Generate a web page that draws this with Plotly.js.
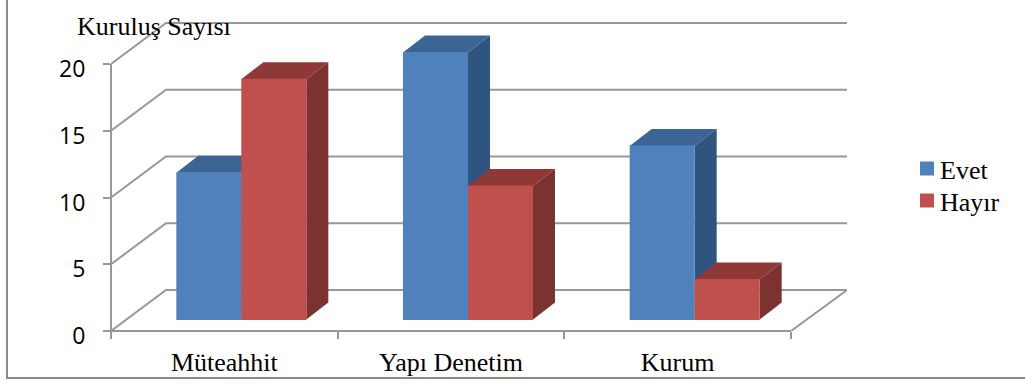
<!DOCTYPE html>
<html>
<head>
<meta charset="utf-8">
<script src="https://cdn.plot.ly/plotly-3.0.1.min.js"></script>
<style>html,body{margin:0;padding:0;background:#fff}#c{width:1025px;height:385px}</style>
</head>
<body>
<div id="c"></div>
<script>
const categories = ['Müteahhit', 'Yapı Denetim', 'Kurum'];
const evet = [11, 20, 13];
const hayir = [18, 10, 3];
const yTicks = [0, 5, 10, 15, 20];
const seriesNames = ['Evet', 'Hayır'];
const yTitle = 'Kuruluş Sayısı';

// plot box in page pixels
const W = 1025, H = 385;
const L = 111, R = 847, T = 13, B = 331;
const pxX = 680 / categories.length;      // pixels per category
const pxY = 13.35;                        // pixels per unit of value
const xMax = (R - L) / pxX, yMax = (B - T) / pxY;
const wallDx = 55 / pxX, wallDy = 41 / pxY;     // depth of the floor
const barDx = 22 / pxX, barDy = 17 / pxY;       // depth of one bar
const barBase = 11.5 / pxY;                     // bars stand in front of the back wall
const barW = 63 / pxX;                          // plus a 2px outline = 65px
const barStep = 65 / pxX;
const barShift = 17 / pxX;

const GRID = '#989898', FRAME = '#8a8a8a';
const SERIF = '"Liberation Serif", "Times New Roman", serif';
const blue = {front: '#4F81BD', top: '#3C6494', side: '#2F5480'};
const red  = {front: '#C0504D', top: '#8E3937', side: '#7C3230'};

const traces = [];
function line(xs, ys) {
  traces.push({type: 'scatter', mode: 'lines', x: xs, y: ys, cliponaxis: false, zorder: 0,
    line: {color: GRID, width: 2}, showlegend: false, hoverinfo: 'skip'});
}
// wall and floor lines
yTicks.forEach(v => line([0, wallDx, xMax], [v, v + wallDy, v + wallDy]));
line([3, xMax], [0, wallDy]);

function bars(values, name, col, side, z) {
  const xc = values.map((_, i) => i + 0.5 + barShift + side * barStep / 2);
  values.forEach((v, i) => {
    const x0 = xc[i] - barStep / 2, x1 = xc[i] + barStep / 2, t = barBase + v;
    traces.push({type: 'scatter', mode: 'lines', fill: 'toself', fillcolor: col.top, zorder: z,
      x: [x0, x1, x1 + barDx, x0 + barDx, x0], y: [t, t, t + barDy, t + barDy, t],
      line: {width: 0}, showlegend: false, hoverinfo: 'skip', cliponaxis: false});
    traces.push({type: 'scatter', mode: 'lines', fill: 'toself', fillcolor: col.side, zorder: z,
      x: [x1, x1 + barDx, x1 + barDx, x1, x1], y: [barBase, barBase + barDy, t + barDy, t, barBase],
      line: {width: 0}, showlegend: false, hoverinfo: 'skip', cliponaxis: false});
  });
  traces.push({type: 'bar', name: name, x: xc, y: values.map(v => v - 1 / pxY), base: barBase + 1 / pxY * 0.5, width: barW, zorder: z + 1,
    marker: {color: col.front, line: {color: col.front, width: 2}}, hoverinfo: 'skip'});
}
bars(evet, seriesNames[0], blue, -1, 1);
bars(hayir, seriesNames[1], red, 1, 3);

const pw = R - L, ph = B - T;
const paperX = px => (px - L) / pw;
const paperY = py => (B - py) / ph;

const layout = {
  width: W, height: H,
  margin: {l: L, r: W - R, t: T, b: H - B, pad: 0},
  paper_bgcolor: '#fff', plot_bgcolor: 'rgba(0,0,0,0)',
  barmode: 'overlay',
  showlegend: true,
  legend: {x: paperX(900), y: paperY(145), xanchor: 'left', yanchor: 'top', traceorder: 'normal',
    font: {family: SERIF, size: 26, color: '#000'}, bgcolor: 'rgba(0,0,0,0)', itemwidth: 30,
    tracegroupgap: 0},
  xaxis: {
    range: [0, xMax], zeroline: false, showgrid: false, showline: false,
    tickmode: 'array', tickvals: categories.map((_, i) => i + 0.5), ticktext: categories,
    ticks: 'outside', ticklen: 0, tickfont: {family: SERIF, size: 26, color: '#000'},
    ticklabelstandoff: 8,
    minor: {tickmode: 'array', tickvals: [0, 1, 2, 3], ticks: 'outside', ticklen: 7, tickwidth: 2, tickcolor: GRID, showgrid: false}
  },
  yaxis: {
    range: [0, yMax], zeroline: false, showgrid: false, showline: false,
    tickmode: 'array', tickvals: yTicks, ticks: 'outside', ticklen: 7, tickwidth: 2, tickcolor: GRID,
    tickfont: {family: '"Open Sans", sans-serif', size: 23, color: '#000'},
    ticklabelstandoff: 13, ticklabelshift: 5
  },
  shapes: [
    {type: 'path', xref: 'paper', yref: 'paper', layer: 'below',
     path: `M${paperX(7)},${paperY(-2)} L${paperX(7)},${paperY(378)} L${paperX(1027)},${paperY(378)}`,
     line: {color: FRAME, width: 2}},
    {type: 'path', xref: 'paper', yref: 'paper', layer: 'below',
     path: `M${paperX(111)},${paperY(B - 20 * pxY)} L${paperX(111)},${paperY(B)} L${paperX(L + 680)},${paperY(B)}`,
     line: {color: GRID, width: 2}}
  ],
  annotations: [
    {text: yTitle, xref: 'paper', yref: 'paper', x: paperX(75), y: paperY(27), xanchor: 'left', yanchor: 'middle',
     showarrow: false, font: {family: SERIF, size: 26, color: '#000'}}
  ]
};
Plotly.newPlot('c', traces, layout, {displayModeBar: false, staticPlot: true}).then(() => {
  // the legend's swatch sits closer to its label, and its rows closer together,
  // than the library's minimum item width and row height allow
  document.querySelectorAll('.legend .layers').forEach(n => n.setAttribute('transform', 'translate(7,0)'));
  const rows = document.querySelectorAll('.legend .traces');
  const rowY = n => parseFloat(n.getAttribute('transform').split(',')[1]);
  const y0 = rowY(rows[0]);
  rows.forEach((n, i) => n.setAttribute('transform', `translate(0,${y0 + i * 32})`));
});
</script>
</body>
</html>
